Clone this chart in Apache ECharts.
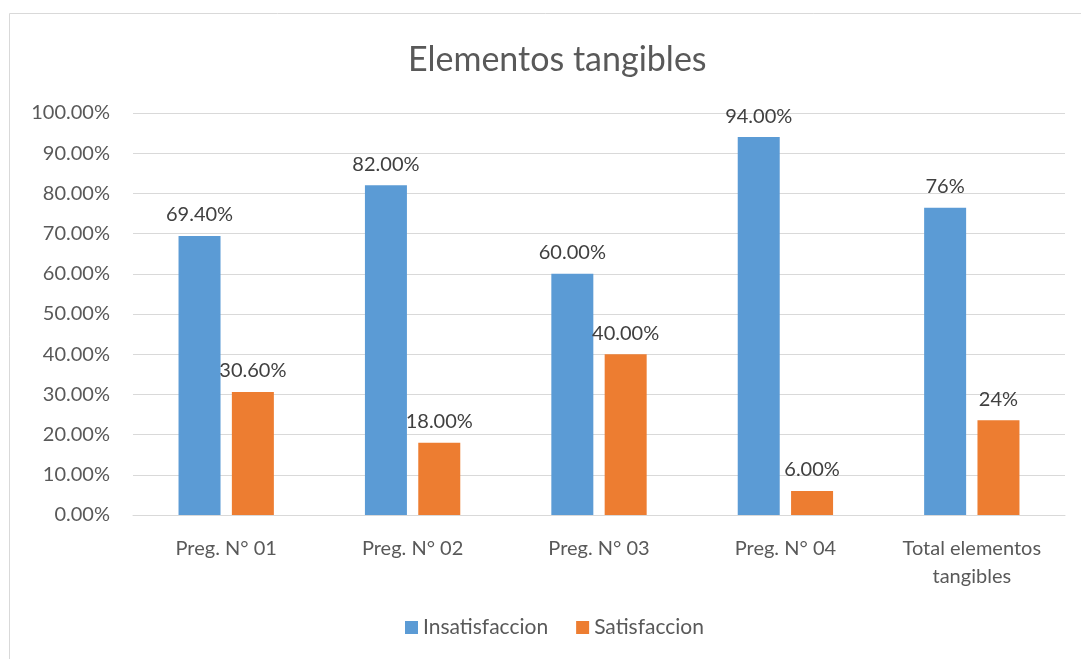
<!DOCTYPE html>
<html>
<head>
<meta charset="utf-8">
<script src="https://cdn.jsdelivr.net/npm/echarts@6/dist/echarts.min.js"></script>
<style>
html, body { margin: 0; padding: 0; background: #fff; }
#chart { width: 1081px; height: 659px; }
</style>
</head>
<body>
<div id="chart"></div>
<script>
var categorias = ['Preg. N° 01', 'Preg. N° 02', 'Preg. N° 03', 'Preg. N° 04', 'Total elementos\ntangibles'];
var insatisfaccion = [69.4, 82, 60, 94, 76.4];
var satisfaccion = [30.6, 18, 40, 6, 23.6];
var etiquetasInsat = ['69.40%', '82.00%', '60.00%', '94.00%', '76%'];
var etiquetasSat = ['30.60%', '18.00%', '40.00%', '6.00%', '24%'];

var fuente = 'Lato, "Open Sans", sans-serif';
var gris = '#595959';

var myChart = echarts.init(document.getElementById('chart'));
var option = {
    animation: false,
    textStyle: { fontFamily: fuente },
    title: {
        text: 'Elementos tangibles',
        left: 403,
        top: 38,
        textStyle: { fontSize: 34, fontWeight: 'normal', color: gris, fontFamily: fuente }
    },
    graphic: [{
        type: 'rect',
        shape: { x: 9.5, y: 13.5, width: 1100, height: 700 },
        style: { fill: 'none', stroke: '#D9D9D9', lineWidth: 1 }
    }],
    legend: {
        bottom: 16,
        left: 400,
        itemWidth: 13,
        itemHeight: 13,
        itemGap: 28,
        icon: 'rect',
        textStyle: { fontSize: 21, color: gris, fontFamily: fuente },
        data: ['Insatisfaccion', 'Satisfaccion']
    },
    grid: { left: 133, right: 16, top: 113, bottom: 144 },
    xAxis: {
        type: 'category',
        data: categorias,
        axisLine: { lineStyle: { color: '#D9D9D9' } },
        axisTick: { show: false },
        axisLabel: { fontSize: 20, color: gris, margin: 20, lineHeight: 28, fontFamily: fuente }
    },
    yAxis: {
        type: 'value',
        min: 0,
        max: 100,
        interval: 10,
        axisLine: { show: false },
        axisTick: { show: false },
        splitLine: { lineStyle: { color: '#D9D9D9', width: 1 } },
        axisLabel: {
            fontSize: 20, color: gris, margin: 23, fontFamily: fuente,
            formatter: function (v) { return v.toFixed(2) + '%'; }
        }
    },
    series: [
        {
            name: 'Insatisfaccion',
            type: 'bar',
            data: insatisfaccion,
            barWidth: 42,
            barGap: '27%',
            itemStyle: { color: '#5B9BD5' },
            label: {
                show: true, position: 'top', distance: 11,
                fontSize: 20, color: '#404040', fontFamily: fuente,
                formatter: function (p) { return etiquetasInsat[p.dataIndex]; }
            }
        },
        {
            name: 'Satisfaccion',
            type: 'bar',
            data: satisfaccion,
            barWidth: 42,
            itemStyle: { color: '#ED7D31' },
            label: {
                show: true, position: 'top', distance: 11,
                fontSize: 20, color: '#404040', fontFamily: fuente,
                formatter: function (p) { return etiquetasSat[p.dataIndex]; }
            }
        }
    ]
};
myChart.setOption(option);
</script>
</body>
</html>
